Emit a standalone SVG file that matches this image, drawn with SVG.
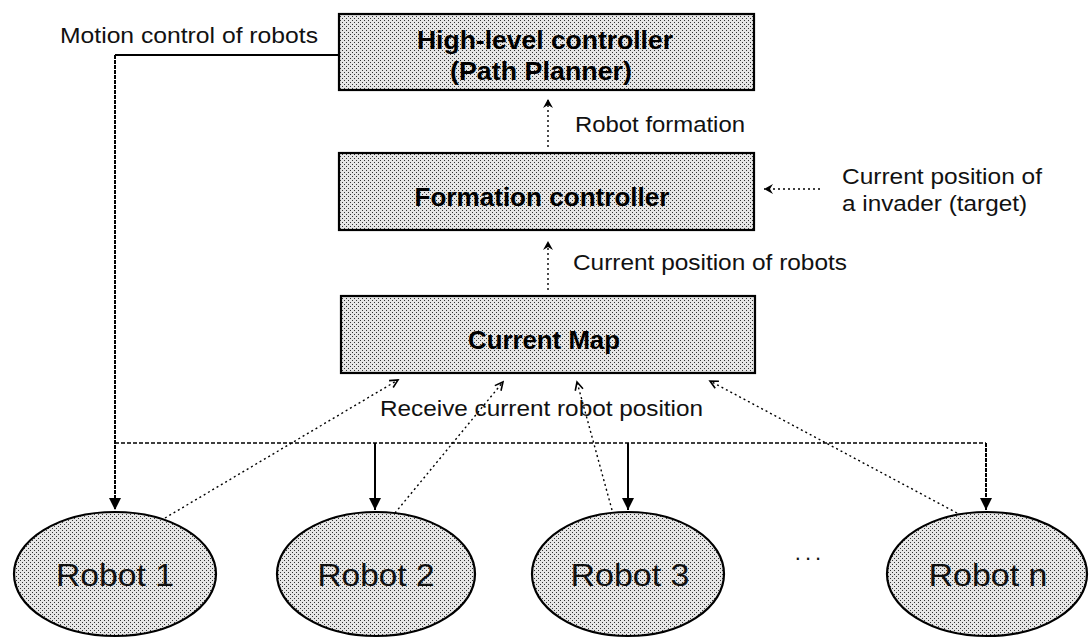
<svg xmlns="http://www.w3.org/2000/svg" width="1091" height="638" viewBox="0 0 1091 638">
  <defs>
    <!-- halftone dot fill used by every node -->
    <pattern id="dots" width="4" height="4" patternUnits="userSpaceOnUse">
      <rect width="4" height="4" fill="#e6e6e6"/>
      <rect x="0" y="0" width="1" height="1" fill="#333"/>
      <rect x="2" y="2" width="1" height="1" fill="#333"/>
    </pattern>
    <marker id="solidHead" markerWidth="12" markerHeight="12" refX="12" refY="6" orient="auto" markerUnits="userSpaceOnUse">
      <path d="M0,0 L12,6 L0,12 Z" fill="#000"/>
    </marker>
    <marker id="smallHead" markerWidth="10" markerHeight="10" refX="9" refY="5" orient="auto" markerUnits="userSpaceOnUse">
      <path d="M0,0 L9,5 L0,10 L3,5 Z" fill="#000"/>
    </marker>
    <marker id="openHead" markerWidth="11" markerHeight="11" refX="9" refY="5" orient="auto" markerUnits="userSpaceOnUse">
      <path d="M1,1 L9,5 L1,9" fill="none" stroke="#000" stroke-width="1.6"/>
    </marker>
  </defs>
  <style>
    .box { fill: url(#dots); stroke: #000; stroke-width: 2.2; }
    .title { font-family: "Liberation Sans", Arial, sans-serif; font-weight: bold; font-size: 26px; fill: #000; text-anchor: middle; }
    .robot { font-family: "Liberation Sans", Arial, sans-serif; font-size: 32px; fill: #111; text-anchor: middle; }
    .label { font-family: "Liberation Sans", Arial, sans-serif; font-size: 22px; fill: #111; }
    .solid { fill: none; stroke: #000; stroke-width: 2; }
    .dense { fill: none; stroke: #000; stroke-width: 2; stroke-dasharray: 4 1; }
    .dashed { fill: none; stroke: #000; stroke-width: 1.6; stroke-dasharray: 4 2; }
    .dotted { fill: none; stroke: #000; stroke-width: 1.4; stroke-dasharray: 2 3; }
  </style>

  <rect width="1091" height="638" fill="#fff"/>

  <!-- controller stack -->
  <g id="high-level-controller">
    <rect class="box" x="339" y="14" width="415" height="76"/>
    <text class="title" x="545" y="49" textLength="256" lengthAdjust="spacingAndGlyphs">High-level controller</text>
    <text class="title" x="541" y="80" textLength="182" lengthAdjust="spacingAndGlyphs">(Path Planner)</text>
  </g>

  <g id="formation-controller">
    <rect class="box" x="339" y="153" width="415" height="77"/>
    <text class="title" x="542" y="206" textLength="255" lengthAdjust="spacingAndGlyphs">Formation controller</text>
  </g>

  <g id="current-map">
    <rect class="box" x="341" y="296" width="414" height="77"/>
    <text class="title" x="544" y="349" textLength="152" lengthAdjust="spacingAndGlyphs">Current Map</text>
  </g>

  <!-- robots -->
  <g id="robot-1">
    <ellipse class="box" cx="115" cy="574" rx="101" ry="62"/>
    <text class="robot" x="115" y="586" textLength="118" lengthAdjust="spacingAndGlyphs">Robot 1</text>
  </g>
  <g id="robot-2">
    <ellipse class="box" cx="376" cy="574" rx="99" ry="62"/>
    <text class="robot" x="376" y="586" textLength="117" lengthAdjust="spacingAndGlyphs">Robot 2</text>
  </g>
  <g id="robot-3">
    <ellipse class="box" cx="628" cy="574" rx="96" ry="62"/>
    <text class="robot" x="630" y="586" textLength="119" lengthAdjust="spacingAndGlyphs">Robot 3</text>
  </g>
  <g id="robot-n">
    <ellipse class="box" cx="987" cy="574" rx="100" ry="62"/>
    <text class="robot" x="988" y="586" textLength="119" lengthAdjust="spacingAndGlyphs">Robot n</text>
  </g>

  <g id="ellipsis">
    <text class="label" x="810" y="560" text-anchor="middle" letter-spacing="4">...</text>
  </g>

  <!-- connectors -->
  <g id="connectors">
    <!-- motion commands from the path planner down to every robot -->
    <path class="solid" d="M339,55 H115"/>
    <path class="dense" d="M115,55 V510" marker-end="url(#solidHead)"/>
    <path class="dashed" d="M115,443 H986"/>
    <path class="solid" d="M375,443 V510" stroke-width="2.6" marker-end="url(#solidHead)"/>
    <path class="solid" d="M628,443 V510" stroke-width="2.6" marker-end="url(#solidHead)"/>
    <path class="dense" d="M986,443 V510" marker-end="url(#solidHead)"/>

    <!-- upward information flow -->
    <path class="dotted" d="M548,147 V99" marker-end="url(#smallHead)"/>
    <path class="dotted" d="M548,290 V241" marker-end="url(#smallHead)"/>
    <path class="dotted" d="M820,189 H764" marker-end="url(#smallHead)"/>

    <!-- robot position reports into the map -->
    <path class="dotted" d="M165,518 L398,380" marker-end="url(#openHead)"/>
    <path class="dotted" d="M395,513 L503,382" marker-end="url(#openHead)"/>
    <path class="dotted" d="M612,510 L577,382" marker-end="url(#openHead)"/>
    <path class="dotted" d="M957,513 L710,381" marker-end="url(#openHead)"/>
  </g>

  <!-- edge labels -->
  <g id="labels">
    <text class="label" x="60" y="43" textLength="258" lengthAdjust="spacingAndGlyphs">Motion control of robots</text>
    <text class="label" x="575" y="132" textLength="170" lengthAdjust="spacingAndGlyphs">Robot formation</text>
    <text class="label" x="842" y="184" textLength="200" lengthAdjust="spacingAndGlyphs">Current position of</text>
    <text class="label" x="842" y="211" textLength="185" lengthAdjust="spacingAndGlyphs">a invader (target)</text>
    <text class="label" x="573" y="270" textLength="274" lengthAdjust="spacingAndGlyphs">Current position of robots</text>
    <text class="label" x="380" y="416" font-size="24" textLength="323" lengthAdjust="spacingAndGlyphs">Receive current robot position</text>
  </g>
</svg>
